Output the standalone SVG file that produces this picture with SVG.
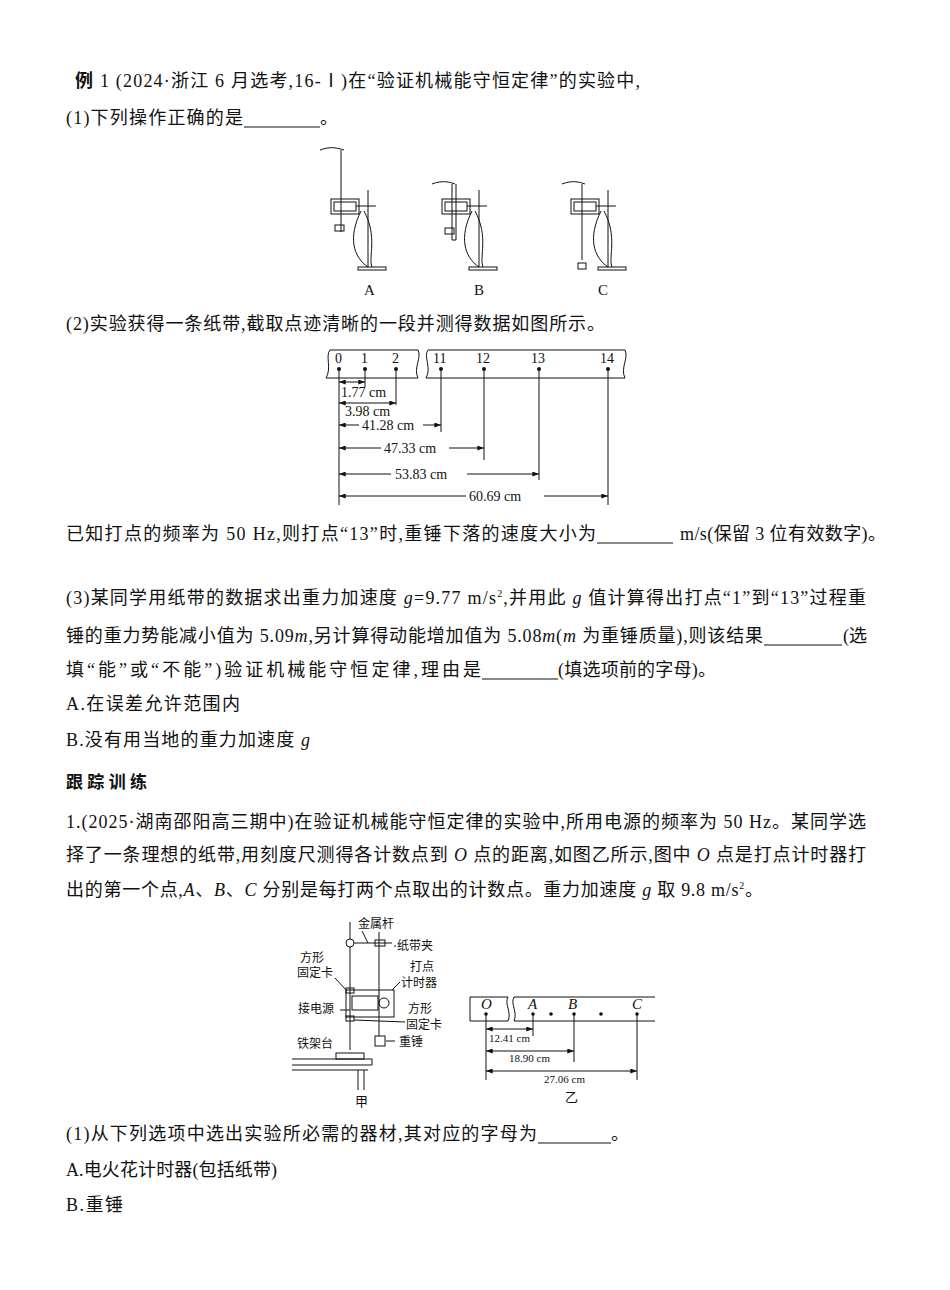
<svg xmlns="http://www.w3.org/2000/svg" width="950" height="1290" viewBox="0 0 950 1290">
<style>
.t{font-family:"Liberation Serif","Noto Sans CJK SC",serif;font-size:18px;fill:#111}
.s{font-family:"Liberation Serif","Noto Sans CJK SC",serif;fill:#111}
.c{font-family:"Noto Sans CJK SC",sans-serif;font-size:12px;fill:#111}
.b{font-family:"Noto Sans CJK SC",sans-serif;font-size:17px;font-weight:bold;fill:#111}
.l{stroke:#111;stroke-width:1;fill:none}
.u{stroke:#111;stroke-width:1}
.i{font-style:italic}
</style>
<defs>
<marker id="a" viewBox="0 0 8 6" refX="8" refY="3" markerWidth="7" markerHeight="5" orient="auto-start-reverse"><path d="M0,0L8,3L0,6z" fill="#111"/></marker>
<g id="app">
<rect x="0" y="0" width="28" height="3" class="l"/>
<line x1="10" y1="0" x2="10" y2="-77" class="l" stroke-width="1.5"/>
<rect x="-27" y="-68" width="28" height="15" class="l"/>
<rect x="-24" y="-65" width="22" height="9" class="l"/>
<line x1="-2" y1="-61" x2="18" y2="-61" class="l"/>
<path d="M3,-56 C-10,-30 -5,-10 10,0 M6,-56 C20,-30 10,-10 14,0" class="l"/>
</g>
</defs>
<g id="text">
<text class="t" x="75" y="87" textLength="565" lengthAdjust="spacing"><tspan font-weight="bold">例</tspan> 1 (2024·浙江 6 月选考,16-Ⅰ)在“验证机械能守恒定律”的实验中,</text>
<text class="t" x="66" y="124" textLength="177" lengthAdjust="spacing">(1)下列操作正确的是</text><line class="u" x1="244" y1="127" x2="320" y2="127"/><text class="t" x="320" y="124">。</text>
<text class="t" x="66" y="330" textLength="539" lengthAdjust="spacing">(2)实验获得一条纸带,截取点迹清晰的一段并测得数据如图所示。</text>
<text class="t" x="66" y="540" textLength="530" lengthAdjust="spacing">已知打点的频率为 50 Hz,则打点“13”时,重锤下落的速度大小为</text><line class="u" x1="597" y1="543" x2="673" y2="543"/><text class="t" x="680" y="540" textLength="206" lengthAdjust="spacing">m/s(保留 3 位有效数字)。</text>
<text class="t" x="66" y="604" textLength="800" lengthAdjust="spacing">(3)某同学用纸带的数据求出重力加速度 <tspan class="i">g</tspan>=9.77 m/s<tspan style="font-size:10px" dy="-7">2</tspan><tspan dy="7">,并用此 </tspan><tspan class="i">g</tspan> 值计算得出打点“1”到“13”过程重</text>
<text class="t" x="66" y="642" textLength="697" lengthAdjust="spacing">锤的重力势能减小值为 5.09<tspan class="i">m</tspan>,另计算得动能增加值为 5.08<tspan class="i">m</tspan>(<tspan class="i">m</tspan> 为重锤质量),则该结果</text><line class="u" x1="764" y1="645" x2="842" y2="645"/><text class="t" x="843" y="642">(选</text>
<text class="t" x="66" y="676" textLength="415" lengthAdjust="spacing">填“能”或“不能”)验证机械能守恒定律,理由是</text><line class="u" x1="482" y1="679" x2="558" y2="679"/><text class="t" x="558" y="676" textLength="158" lengthAdjust="spacing">(填选项前的字母)。</text>
<text class="t" x="66" y="710" textLength="174" lengthAdjust="spacing">A.在误差允许范围内</text>
<text class="t" x="66" y="746" textLength="244" lengthAdjust="spacing">B.没有用当地的重力加速度 <tspan class="i">g</tspan></text>
<text class="b" x="66" y="788" textLength="81" lengthAdjust="spacing">跟踪训练</text>
<text class="t" x="66" y="828" textLength="800" lengthAdjust="spacing">1.(2025·湖南邵阳高三期中)在验证机械能守恒定律的实验中,所用电源的频率为 50 Hz。某同学选</text>
<text class="t" x="66" y="861" textLength="800" lengthAdjust="spacing">择了一条理想的纸带,用刻度尺测得各计数点到 <tspan class="i">O</tspan> 点的距离,如图乙所示,图中 <tspan class="i">O</tspan> 点是打点计时器打</text>
<text class="t" x="66" y="896" textLength="697" lengthAdjust="spacing">出的第一个点,<tspan class="i">A</tspan>、<tspan class="i">B</tspan>、<tspan class="i">C</tspan> 分别是每打两个点取出的计数点。重力加速度 <tspan class="i">g</tspan> 取 9.8 m/s<tspan style="font-size:10px" dy="-7">2</tspan><tspan dy="7">。</tspan></text>
<text class="t" x="66" y="1140" textLength="471" lengthAdjust="spacing">(1)从下列选项中选出实验所必需的器材,其对应的字母为</text><line class="u" x1="538" y1="1143" x2="611" y2="1143"/><text class="t" x="611" y="1140">。</text>
<text class="t" x="66" y="1176" textLength="211" lengthAdjust="spacing">A.电火花计时器(包括纸带)</text>
<text class="t" x="66" y="1211" textLength="57" lengthAdjust="spacing">B.重锤</text>
</g>
<g id="figABC">
<use href="#app" x="358" y="267"/>
<path d="M320,150 C330,146 338,148 344,150" class="l"/><line x1="341" y1="150" x2="341" y2="232" class="l" stroke-width="1.5"/><rect x="335" y="225" width="9" height="6" class="l"/>
<use href="#app" x="469" y="267"/>
<path d="M432,184 C442,180 450,182 455,184" class="l"/><path d="M452,184 L452,240 L456,240 L456,184" class="l"/><rect x="445" y="228" width="9" height="6" class="l"/>
<use href="#app" x="598" y="267"/>
<path d="M562,184 C572,180 580,182 585,184" class="l"/><line x1="582" y1="184" x2="582" y2="260" class="l" stroke-width="1.5"/><rect x="578" y="263" width="8" height="6" class="l"/>
<g class="s" style="font-size:15px"><text x="364" y="295">A</text><text x="474" y="295">B</text><text x="598" y="295">C</text></g>
</g>
<g id="tape1">
<path d="M418,350 H330 C325,356 332,368 326,378 H418 C413,368 422,358 418,350 Z" class="l"/>
<path d="M625,350 H428 C423,356 432,368 426,378 H625 C620,368 629,358 625,350 Z" class="l"/>
<g fill="#111"><circle cx="339" cy="369" r="2"/><circle cx="365" cy="369" r="2"/><circle cx="396" cy="369" r="2"/><circle cx="441" cy="369" r="2"/><circle cx="484" cy="369" r="2"/><circle cx="539" cy="369" r="2"/><circle cx="608" cy="369" r="2"/></g>
<g class="s" style="font-size:14px"><text x="335" y="363">0</text><text x="361" y="363">1</text><text x="392" y="363">2</text><text x="433" y="363">11</text><text x="476" y="363">12</text><text x="531" y="363">13</text><text x="600" y="363">14</text></g>
<g class="l"><line x1="339" y1="369" x2="339" y2="505"/><line x1="365" y1="369" x2="365" y2="387"/><line x1="396" y1="369" x2="396" y2="405"/><line x1="441" y1="369" x2="441" y2="432"/><line x1="484" y1="369" x2="484" y2="460"/><line x1="539" y1="369" x2="539" y2="480"/><line x1="608" y1="369" x2="608" y2="505"/></g>
<g class="l" marker-start="url(#a)" marker-end="url(#a)"><line x1="339" y1="382" x2="365" y2="382"/><line x1="339" y1="403" x2="396" y2="403"/></g>
<g class="l" marker-start="url(#a)" marker-end="url(#a)"><line x1="339" y1="425" x2="441" y2="425" stroke-dasharray="20,64,30"/><line x1="339" y1="448" x2="484" y2="448" stroke-dasharray="42,68,60"/><line x1="339" y1="474" x2="539" y2="474" stroke-dasharray="52,76,80"/><line x1="339" y1="496" x2="608" y2="496" stroke-dasharray="127,78,80"/></g>
<g class="s" style="font-size:14px"><text x="341" y="397">1.77 cm</text><text x="345" y="416">3.98 cm</text><text x="362" y="430">41.28 cm</text><text x="384" y="453">47.33 cm</text><text x="395" y="479">53.83 cm</text><text x="469" y="501">60.69 cm</text></g>
</g>
<g id="figJia">
<line x1="350" y1="922" x2="350" y2="1050" class="l" stroke-width="3"/>
<line x1="379" y1="932" x2="379" y2="1022" class="l" stroke-width="2"/>
<line x1="350" y1="943" x2="392" y2="943" class="l"/>
<circle cx="350" cy="943" r="4" fill="#fff" stroke="#111"/>
<rect x="375" y="940" width="10" height="6" class="l"/>
<rect x="346" y="990" width="48" height="27" class="l"/>
<rect x="352" y="996" width="26" height="14" class="l"/>
<circle cx="384" cy="1003" r="5" class="l"/>
<rect x="346" y="988" width="8" height="5" class="l"/><rect x="346" y="1016" width="8" height="5" class="l"/>
<rect x="375" y="1036" width="10" height="10" class="l"/>
<line x1="379" y1="1022" x2="379" y2="1036" class="l"/>
<rect x="336" y="1053" width="28" height="6" class="l"/>
<path d="M292,1059 H372 V1065 M292,1065 H372 M292,1070 H368 M358,1070 V1090 M364,1070 V1090" class="l"/>
<g class="l"><line x1="362" y1="931" x2="368" y2="943"/><line x1="394" y1="946" x2="396" y2="946"/><line x1="335" y1="978" x2="346" y2="990"/><line x1="340" y1="1010" x2="350" y2="1010"/><line x1="354" y1="1020" x2="405" y2="1022"/><line x1="392" y1="990" x2="400" y2="982"/><line x1="386" y1="1041" x2="395" y2="1041"/></g>
<g class="c"><text x="358" y="928">金属杆</text><text x="397" y="950">纸带夹</text><text x="300" y="962">方形</text><text x="297" y="977">固定卡</text><text x="410" y="971">打点</text><text x="401" y="987">计时器</text><text x="298" y="1013">接电源</text><text x="408" y="1013">方形</text><text x="406" y="1029">固定卡</text><text x="399" y="1046">重锤</text><text x="297" y="1048">铁架台</text><text x="355" y="1106" style="font-size:13px">甲</text></g>
</g>
<g id="tape2">
<path d="M470,997 H508 C504,1004 512,1012 508,1021 H470 Z" class="l"/>
<path d="M655,997 H514 C510,1004 518,1012 514,1021 H655" class="l"/>
<g fill="#111"><circle cx="486" cy="1014" r="1.8"/><circle cx="533" cy="1014" r="1.8"/><circle cx="551" cy="1014" r="1.8"/><circle cx="574" cy="1014" r="1.8"/><circle cx="601" cy="1014" r="1.8"/><circle cx="637" cy="1014" r="1.8"/></g>
<g class="s i" style="font-size:15px"><text x="481" y="1009">O</text><text x="528" y="1009">A</text><text x="568" y="1009">B</text><text x="632" y="1009">C</text></g>
<g class="l"><line x1="486" y1="1014" x2="486" y2="1080"/><line x1="533" y1="1014" x2="533" y2="1036"/><line x1="574" y1="1014" x2="574" y2="1062"/><line x1="637" y1="1014" x2="637" y2="1080"/></g>
<g class="l" marker-start="url(#a)" marker-end="url(#a)"><line x1="486" y1="1029" x2="533" y2="1029"/><line x1="486" y1="1051" x2="574" y2="1051"/><line x1="486" y1="1071" x2="637" y2="1071"/></g>
<g class="s" style="font-size:11px"><text x="489" y="1042">12.41 cm</text><text x="509" y="1062">18.90 cm</text><text x="544" y="1083">27.06 cm</text></g>
<text class="c" x="565" y="1102" style="font-size:13px">乙</text>
</g>
</svg>
